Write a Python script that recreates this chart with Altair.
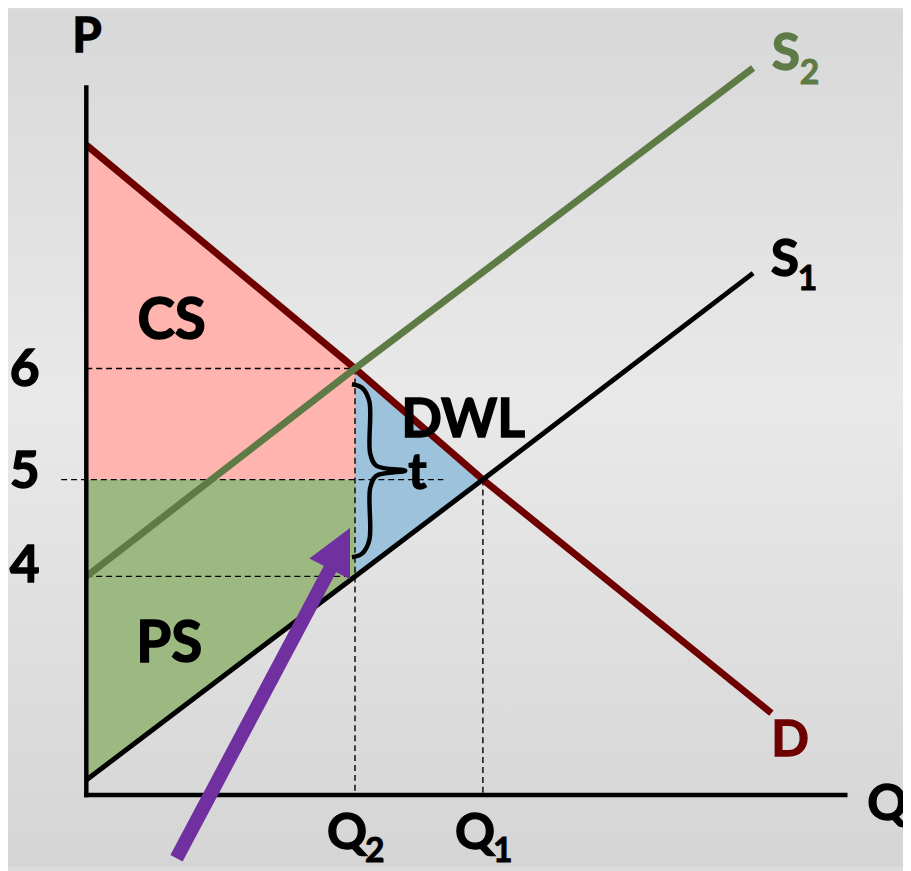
import altair as alt
import pandas as pd

# ---- values (drawing units: Q axis 0..10, P axis 0..10) ----
Q2 = 3.53
Q1 = 5.21
P_HI = 5.99   # labelled 6
P_MID = 4.43  # labelled 5
P_LO = 3.07   # labelled 4

price_labels = ["6", "5", "4"]
price_levels = [P_HI, P_MID, P_LO]
price_label_dy = [2, -8, -10]

d_q = [0.0, 3.53, 5.21, 9.0]
d_p = [9.13, 5.99, 4.43, 1.15]
s1_q = [0.0, 3.53, 5.21, 8.76]
s1_p = [0.21, 3.07, 4.43, 7.33]
s2_q = [0.0, 3.53, 8.76]
s2_p = [3.07, 5.99, 10.21]

P_AXIS_TOP = 9.97
Q_AXIS_END = 10.0

W, H = 903, 863
xs = alt.Scale(domain=[-1.0286, 10.729], nice=False, zero=False)
ys = alt.Scale(domain=[-1.0139, 11.0], nice=False, zero=False)

FONT = "Lato"
WEIGHT = "bold"
RED = "#6e0000"
GREEN = "#5e7b46"
PURPLE = "#7030a0"


def X(f="q"):
    return alt.X(f"{f}:Q", scale=xs, axis=None)


def Y(f="p"):
    return alt.Y(f"{f}:Q", scale=ys, axis=None)


def df(**cols):
    return pd.DataFrame(cols)


layers = []

# background gradient
grad = alt.LinearGradient(
    gradient="linear",
    stops=[
        alt.GradientStop(color="#d8d8d8", offset=0),
        alt.GradientStop(color="#e9e9e9", offset=0.45),
        alt.GradientStop(color="#d5d5d5", offset=1),
    ],
    x1=0, x2=0, y1=0, y2=1,
)
layers.append(
    alt.Chart(df(a=[0])).mark_rect(color=grad).encode(
        x=alt.value(0), x2=alt.value(W), y=alt.value(0), y2=alt.value(H)
    )
)

# shaded areas
cs = df(q=[0.0, Q2], p=[d_p[0], P_HI], p2=[P_MID, P_MID])
ps = df(q=[0.0, Q2], p=[P_MID, P_MID], p2=[s1_p[0], P_LO])
dwl = df(q=[Q2, Q1], p=[P_HI, P_MID], p2=[P_LO, P_MID])
for data, col in [(cs, "#ffb4b0"), (ps, "#9db982"), (dwl, "#9cc2dc")]:
    layers.append(
        alt.Chart(data).mark_area(color=col, opacity=1).encode(x=X(), y=Y(), y2=alt.Y2("p2:Q"))
    )

# dashed guide lines
guides = df(
    q=[0.0, -0.33, 0.0, Q2, Q1],
    q2=[Q2, 4.69, Q2, Q2, Q1],
    p=[P_HI, P_MID, P_LO, P_HI, P_MID],
    p2=[P_HI, P_MID, P_LO, 0.0, 0.0],
)
layers.append(
    alt.Chart(guides).mark_rule(color="black", strokeWidth=1.4, strokeDash=[6, 4]).encode(
        x=X(), x2=alt.X2("q2:Q"), y=Y(), y2=alt.Y2("p2:Q")
    )
)

# curves
layers.append(alt.Chart(df(q=d_q, p=d_p)).mark_line(color=RED, strokeWidth=7).encode(x=X(), y=Y()))
layers.append(alt.Chart(df(q=s2_q, p=s2_p)).mark_line(color=GREEN, strokeWidth=7).encode(x=X(), y=Y()))
layers.append(alt.Chart(df(q=s1_q, p=s1_p)).mark_line(color="black", strokeWidth=5).encode(x=X(), y=Y()))

# axes
axes = df(q=[0.0, -0.03], q2=[0.0, Q_AXIS_END], p=[-0.03, 0.0], p2=[P_AXIS_TOP, 0.0])
layers.append(
    alt.Chart(axes).mark_rule(color="black", strokeWidth=4.5).encode(
        x=X(), x2=alt.X2("q2:Q"), y=Y(), y2=alt.Y2("p2:Q")
    )
)

# brace spanning the tax between P_LO and P_HI at Q2
y_top, y_bot = P_HI - 0.22, P_LO + 0.27
ym = (y_top + y_bot) / 2
x0, w, tip = Q2 - 0.04, 0.24, 0.70
half_q = [x0, x0 + 0.55 * w, x0 + 0.95 * w, x0 + w, x0 + w + 0.08, x0 + tip]
half_p = [y_top, y_top - 0.05, y_top - 0.24, ym + 0.24, ym + 0.07, ym]
brace_q = half_q + half_q[-2::-1]
brace_p = half_p + [2 * ym - v for v in half_p[-2::-1]]
layers.append(
    alt.Chart(df(q=brace_q, p=brace_p, i=list(range(len(brace_q))))).mark_line(
        color="black", strokeWidth=4.5, interpolate="catmull-rom"
    ).encode(x=X(), y=Y(), order=alt.Order("i:Q"))
)

# purple arrow (shaft from below the axis up to the head near Q2)
layers.append(
    alt.Chart(df(q=[1.185, 3.24], p=[-0.889, 3.25])).mark_line(
        color=PURPLE, strokeWidth=14, strokeCap="butt"
    ).encode(x=X(), y=Y())
)
layers.append(
    alt.Chart(df(q=[2.93, 3.464], p=[3.32, 3.75], p2=[3.32, 3.03])).mark_area(color=PURPLE).encode(
        x=X(), y=Y(), y2=alt.Y2("p2:Q")
    )
)


# text helpers (a thin outline in the same colour thickens the bold face)
def label(q, p, text, size, color="black", dx=0, dy=0, align="center", baseline="middle"):
    return alt.Chart(df(q=[q], p=[p], t=[text])).mark_text(
        font=FONT, fontWeight=WEIGHT, fontSize=size, color=color,
        stroke=color, strokeWidth=size / 38,
        dx=dx, dy=dy, align=align, baseline=baseline,
    ).encode(x=X(), y=Y(), text="t:N")


for txt, lvl, ddy in zip(price_labels, price_levels, price_label_dy):
    layers.append(label(-0.81, lvl, txt, 52, dy=ddy))

layers.append(label(0.01, 10.63, "P", 48))
layers.append(label(10.26, -0.14, "Q", 50, align="left"))
layers.append(label(1.12, 6.64, "CS", 57))
layers.append(label(1.09, 2.11, "PS", 57))
layers.append(label(4.95, 5.25, "DWL", 54))
layers.append(label(4.35, 4.50, "t", 50))

# curve labels near line ends
layers.append(label(s2_q[-1], s2_p[-1], "S", 52, GREEN, dx=33, dy=2, baseline="alphabetic"))
layers.append(label(s2_q[-1], s2_p[-1], "2", 34, GREEN, dx=57, dy=16, baseline="alphabetic"))
layers.append(label(s1_q[-1], s1_p[-1], "S", 52, dx=32, dy=3, baseline="alphabetic"))
layers.append(label(s1_q[-1], s1_p[-1], "1", 34, dx=55, dy=17, baseline="alphabetic"))
layers.append(label(d_q[-1], d_p[-1], "D", 50, RED, dx=19, dy=43, baseline="alphabetic"))

# quantity labels
for qv, sub in [(Q2, "2"), (Q1, "1")]:
    layers.append(label(qv, 0.0, "Q", 50, dx=-8, dy=54, baseline="alphabetic"))
    layers.append(label(qv, 0.0, sub, 34, dx=20, dy=68, baseline="alphabetic"))

chart = alt.layer(*layers).properties(
    width=W, height=H, autosize=alt.AutoSizeParams(type="none"), padding=0
).configure_view(stroke=None).configure(background="#dcdcdc")

chart.save("out.html", embed_options={"renderer": "svg", "actions": False})
